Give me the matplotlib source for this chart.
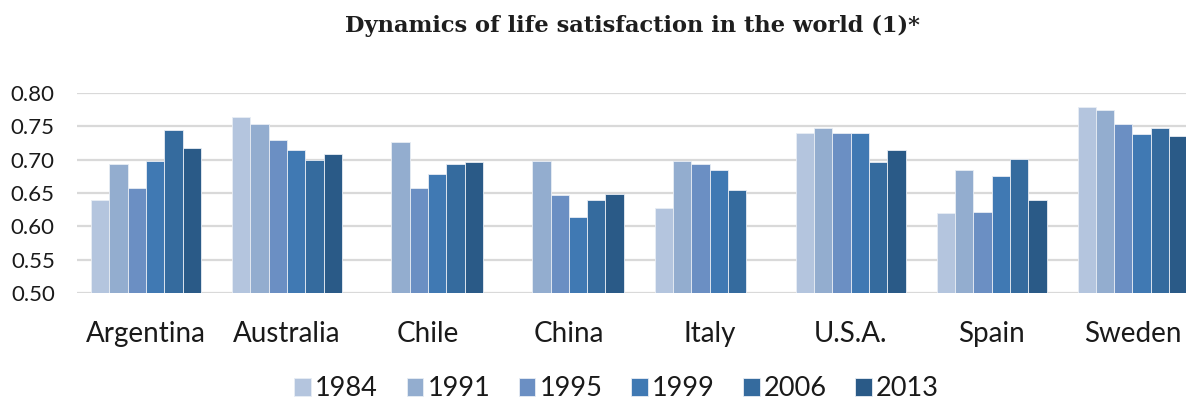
import numpy as np
import matplotlib
matplotlib.use("Agg")
import matplotlib.pyplot as plt

countries = ["Argentina", "Australia", "Chile", "China", "Italy", "U.S.A.", "Spain", "Sweden"]
years = ["1984", "1991", "1995", "1999", "2006", "2013"]
colors = ["#b4c5de", "#93adcf", "#6b8fc3", "#4079b3", "#356b9e", "#2a5a87"]

# one list per survey year, nan = no data for that country
v1984 = [0.640, 0.764, np.nan, np.nan, 0.628, 0.740, 0.620, 0.779]
v1991 = [0.693, 0.754, 0.727, 0.698, 0.698, 0.747, 0.684, 0.774]
v1995 = [0.657, 0.729, 0.657, 0.647, 0.693, 0.740, 0.622, 0.753]
v1999 = [0.698, 0.715, 0.678, 0.614, 0.684, 0.740, 0.676, 0.738]
v2006 = [0.745, 0.700, 0.693, 0.640, 0.654, 0.696, 0.701, 0.747]
v2013 = [0.718, 0.708, 0.696, 0.649, np.nan, 0.715, 0.640, 0.735]
series = [v1984, v1991, v1995, v1999, v2006, v2013]

plt.rcParams["font.family"] = ["Lato", "DejaVu Sans"]

fig = plt.figure(figsize=(11.86, 4.01), dpi=100)
ax = fig.add_axes([0.065, 0.269, 0.935, 0.499])

x = np.arange(len(countries))
w = 0.78 / len(years)
for i, (vals, c, lab) in enumerate(zip(series, colors, years)):
    vals = np.array(vals)
    ax.bar(x + (i - 2.5) * w, vals - 0.5, w, bottom=0.5, color=c,
           edgecolor="#e8edf4", linewidth=0.6, label=lab, zorder=3)

ax.set_ylim(0.5, 0.8)
ax.set_xlim(-0.49, 7.38)
ticks = np.arange(0.50, 0.801, 0.05)
ax.set_yticks(ticks)
ax.set_yticklabels([f"{t:.2f}" for t in ticks], fontsize=16, color="#1a1a1a")
ax.set_xticks(x)
ax.set_xticklabels(countries, fontsize=20, color="#1a1a1a")
ax.tick_params(length=0, axis="y", pad=16)
ax.tick_params(length=0, axis="x", pad=20)
ax.grid(axis="y", color="#d9d9d9", linewidth=1.6, zorder=0)
for s in ax.spines.values():
    s.set_visible(False)

fig.text(0.533, 0.920, "Dynamics of life satisfaction in the world (1)*",
         family="DejaVu Serif", weight="bold", fontsize=16.2, ha="center", va="baseline",
         color="#1e1e1e")

fig.legend(loc="center", bbox_to_anchor=(0.52, 0.03), ncol=6, frameon=False,
           fontsize=19.5, handlelength=0.62, handleheight=0.62, handletextpad=0.15,
           columnspacing=1.05, labelcolor="#1a1a1a")

fig.savefig("out.png", dpi=100)
